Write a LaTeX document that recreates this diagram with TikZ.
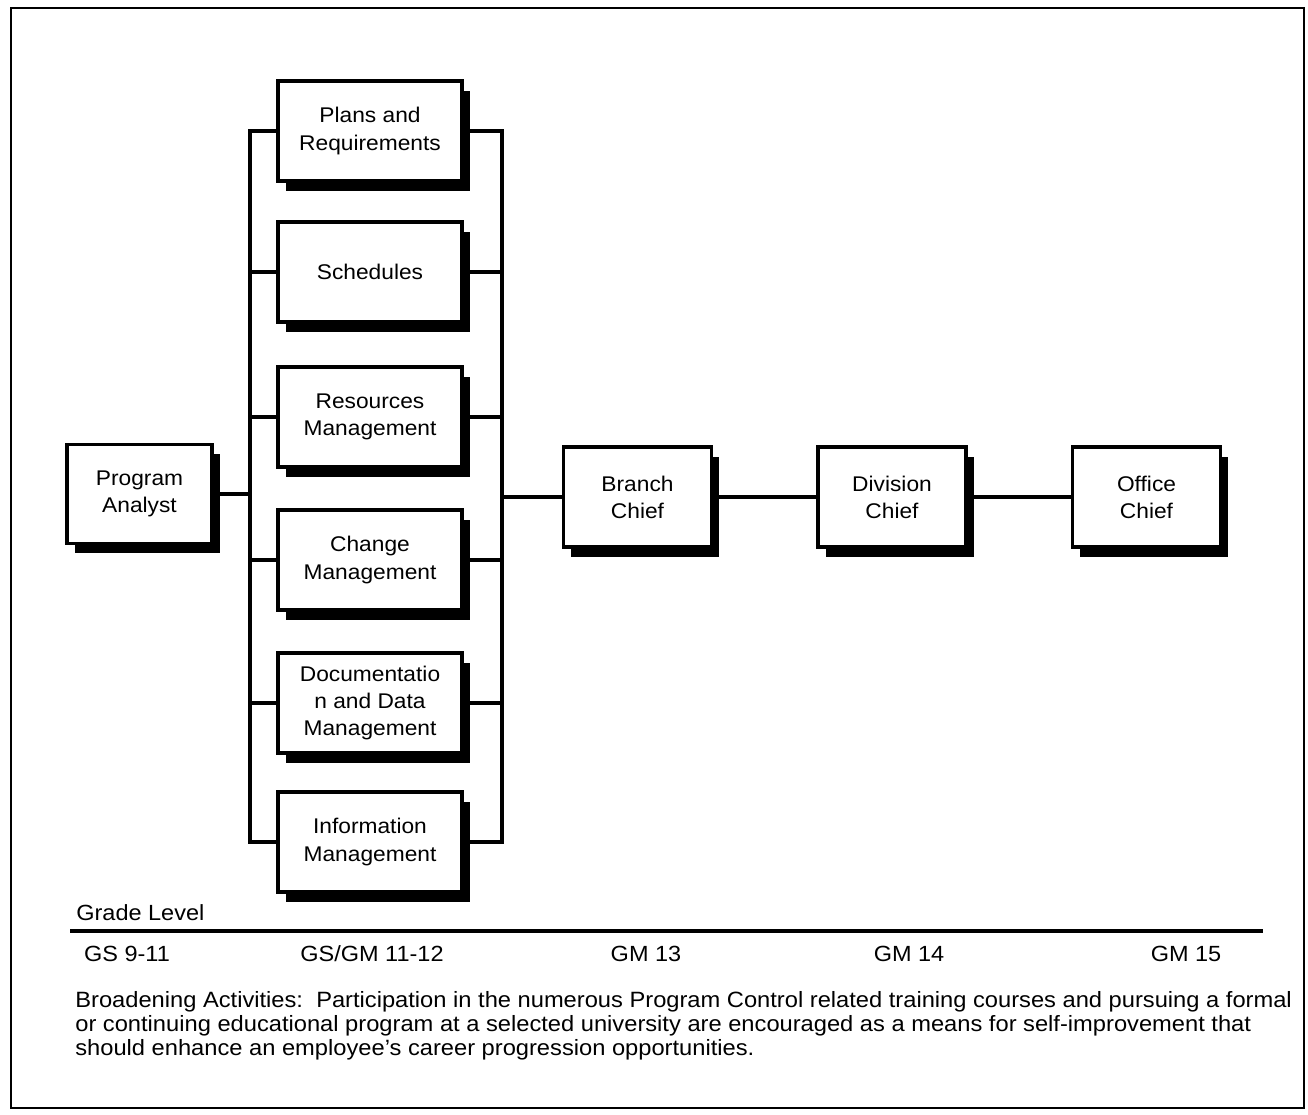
\documentclass[tikz,border=0pt]{standalone}
\usepackage{fontspec}
\setmainfont[FakeStretch=1.07]{Liberation Sans}
\usetikzlibrary{shadows}
\begin{document}
\begin{tikzpicture}[x=0.02cm,y=-0.02cm,
  ln/.style={line width=1.8pt},
  rolebox/.style={draw,fill=white,line width=2pt,align=center,inner sep=0pt,
    font=\fontsize{12.1}{15.4}\selectfont,
    drop shadow={shadow xshift=4.5pt,shadow yshift=-5.5pt,fill=black,opacity=1}},
  midbox/.style={rolebox,minimum width=3.68cm,minimum height=2cm},
  chiefbox/.style={rolebox,minimum width=2.96cm,minimum height=2cm},
  grade/.style={font=\fontsize{12.5}{15}\selectfont,inner sep=0pt},
  note/.style={font=\fontsize{12.6}{13.6}\selectfont,align=left,inner sep=0pt,anchor=west}]
\useasboundingbox (0,0) rectangle (1308,1115);
% outer frame
\draw[line width=1.6pt] (11,8) rectangle (1304,1108);

% boxes
\node[rolebox,minimum width=2.9cm,minimum height=1.98cm] (pa) at (139.5,494) {Program\\Analyst};
\node[midbox] (plans) at (370,131) {Plans and\\Requirements};
\node[midbox] (sched) at (370,272) {Schedules};
\node[midbox] (res) at (370,417) {Resources\\Management};
\node[midbox] (chg) at (370,560) {Change\\Management};
\node[midbox] (doc) at (370,703) {Documentatio\\n and Data\\Management};
\node[midbox] (info) at (370,842) {Information\\Management};
\node[chiefbox] (branch) at (637.5,497) {Branch\\Chief};
\node[chiefbox] (div) at (892,497) {Division\\Chief};
\node[chiefbox] (office) at (1146.5,497) {Office\\Chief};

% bus coordinates
\coordinate (busL) at (250,494);
\coordinate (busR) at (502,497);

% connectors
\draw[ln] (pa.east) -- (pa.east -| busL);
\draw[ln,line join=miter] (plans.west) -- (plans.west -| busL) -- (info.west -| busL) -- (info.west);
\draw[ln] (sched.west) -- (sched.west -| busL);
\draw[ln] (res.west) -- (res.west -| busL);
\draw[ln] (chg.west) -- (chg.west -| busL);
\draw[ln] (doc.west) -- (doc.west -| busL);
\draw[ln,line join=miter] (plans.east) -- (plans.east -| busR) -- (info.east -| busR) -- (info.east);
\draw[ln] (sched.east) -- (sched.east -| busR);
\draw[ln] (res.east) -- (res.east -| busR);
\draw[ln] (chg.east) -- (chg.east -| busR);
\draw[ln] (doc.east) -- (doc.east -| busR);
\draw[ln] (busR) -- (branch.west);
\draw[ln] (branch.east) -- (div.west);
\draw[ln] (div.east) -- (office.west);

% grade level
\node[grade,anchor=west] (gl) at (76,913) {Grade Level};
\coordinate (lineL) at (70,931);
\coordinate (lineR) at (1263,931);
\draw[line width=2.4pt] (lineL) -- (lineR);
\node[grade] (g1) at (127,954) {GS 9-11};
\node[grade] (g2) at (372,954) {GS/GM 11-12};
\node[grade] (g3) at (646,954) {GM 13};
\node[grade] (g4) at (909,954) {GM 14};
\node[grade] (g5) at (1186,954) {GM 15};

\node[note] (bro) at (75,1026) {Broadening Activities:\ \ Participation in the numerous Program Control related training courses and pursuing a formal\\
or continuing educational program at a selected university are encouraged as a means for self-improvement that\\
should enhance an employee's career progression opportunities.};
\end{tikzpicture}
\end{document}
